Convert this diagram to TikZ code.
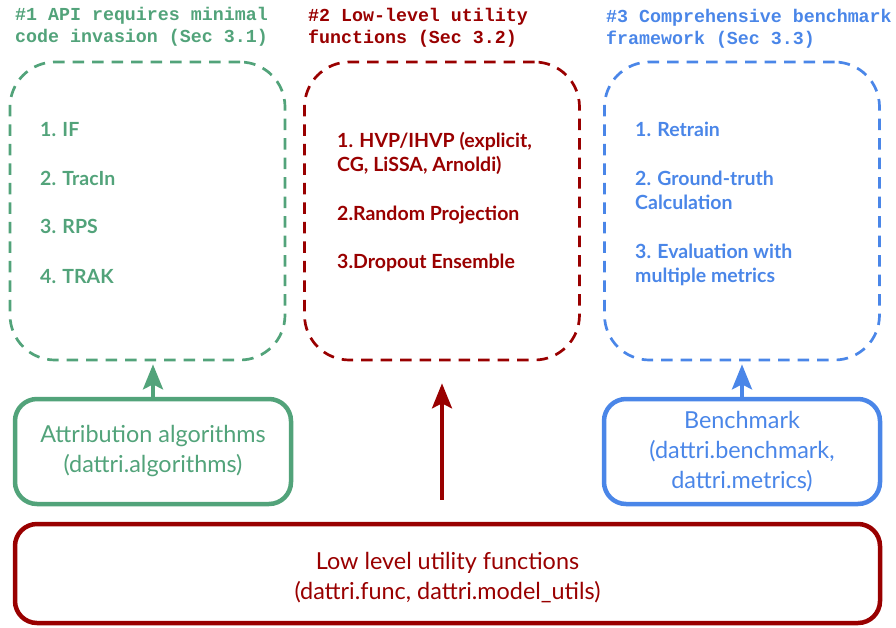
\documentclass[tikz,border=0pt]{standalone}
\usepackage{fontspec}
\setmainfont{Lato}
\newfontfamily\codefont{Liberation Mono}
\usepackage{tikz}
\usetikzlibrary{positioning}
\usetikzlibrary{arrows.meta}

\definecolor{dgreen}{RGB}{82,163,122}
\definecolor{dred}{RGB}{153,0,0}
\definecolor{dblue}{RGB}{74,134,232}

\tikzstyle{featbox}=[draw, rounded corners=45pt, line width=2.7pt,
  dash pattern=on 11.5pt off 8pt, minimum width=275pt, minimum height=298pt, inner sep=0pt]
\tikzstyle{modbox}=[draw, rounded corners=22pt, line width=4.5pt, minimum height=105pt,
  align=center, font=\fontsize{23.4}{30}\selectfont]
\tikzstyle{titletext}=[anchor=base west, align=left, inner sep=0pt,
  font=\codefont\bfseries\fontsize{18.3}{22}\selectfont]
\tikzstyle{listitem}=[anchor=base west, align=left, inner sep=0pt,
  font=\bfseries\fontsize{19.5}{24}\selectfont]
\tikzstyle{uparrow}=[line width=4pt, -{Stealth[length=25pt,width=20pt,inset=5pt]}]

\begin{document}
\begin{tikzpicture}[x=1pt,y=-1pt]

      \useasboundingbox (0,0) rectangle (896,627);

      % section titles (base = last line)
      \node[titletext, dgreen] (title1) at (15,42)
        {\#1 API requires minimal\\code invasion (Sec 3.1)};
      \node[titletext, dred] (title2) at (308,43)
        {\#2 Low-level utility\\functions (Sec 3.2)};
      \node[titletext, dblue] (title3) at (606,44)
        {\#3 Comprehensive benchmark\\framework (Sec 3.3)};

      % dashed feature boxes
      \node[featbox, dgreen] (feat1) at (147.5,211) {};
      \node[featbox, dred]   (feat2) at (442,211)   {};
      \node[featbox, dblue]  (feat3) at (742,211)   {};

      \node[listitem, dgreen] (algo1) at (40,136) {1. IF};
      \node[listitem, dgreen] (algo2) at (40,185) {2. TracIn};
      \node[listitem, dgreen] (algo3) at (40,233) {3. RPS};
      \node[listitem, dgreen] (algo4) at (40,283) {4. TRAK};

      \node[listitem, dred] (func1) at (337,171)
        {1. HVP/IHVP (explicit,\\CG, LiSSA, Arnoldi)};
      \node[listitem, dred] (func2) at (337,220) {2.Random Projection};
      \node[listitem, dred] (func3) at (337,268) {3.Dropout Ensemble};

      \node[listitem, dblue] (bench1) at (635,136) {1. Retrain};
      \node[listitem, dblue] (bench2) at (635,209) {2. Ground-truth\\Calculation};
      \node[listitem, dblue] (bench3) at (635,282) {3. Evaluation with\\multiple metrics};

      % module boxes
      \node[modbox, dgreen, minimum width=276pt] (algos) at (153,451.5)
        {Attribution algorithms\\(dattri.algorithms)};
      \node[modbox, dblue, minimum width=276pt] (benchmark) at (742,451.5)
        {Benchmark\\(dattri.benchmark,\\dattri.metrics)};
      \node[modbox, dred, minimum width=865pt, minimum height=99pt] (utils) at (447.5,573.5)
        {\raisebox{-5pt}[\height][\depth]{\begin{tabular}{@{}c@{}}Low level utility functions\\
         (dattri.func, dattri.model\_utils)\end{tabular}}};

      \draw[uparrow, dgreen] (algos.north) -- ([yshift=-3pt]feat1.south -| algos.north);
      \draw[uparrow, dblue] (benchmark.north) -- ([yshift=-3pt]feat3.south -| benchmark.north);
      \draw[uparrow, dred, line width=3.5pt]
        ([yshift=22pt]utils.north -| feat2.south) -- ([yshift=-22pt]feat2.south);

\end{tikzpicture}
\end{document}
